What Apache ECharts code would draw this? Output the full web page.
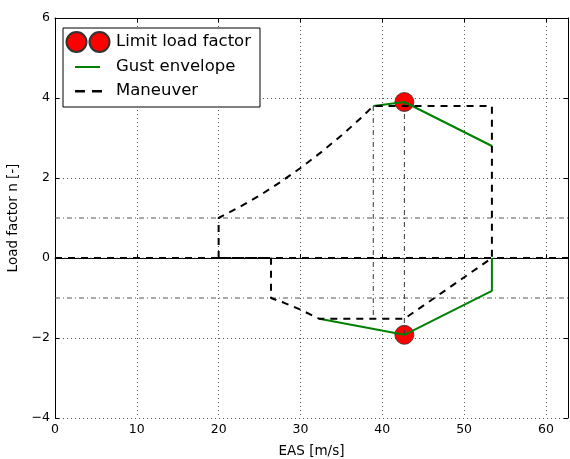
<!DOCTYPE html>
<html>
<head>
<meta charset="utf-8">
<script src="https://cdn.jsdelivr.net/npm/echarts@6/dist/echarts.min.js"></script>
<style>
  html, body { margin: 0; padding: 0; background: #fff; }
  #vn { width: 570px; height: 459px; }
</style>
</head>
<body>
<div id="vn"></div>
<script>
// V-n diagram data (EAS [m/s], load factor n)
var limitV = [42.7, 42.7];
var limitN = [3.9, -1.92];

var gustPosV = [38.9, 42.7, 53.4];
var gustPosN = [3.8, 3.9, 2.8];
var gustNegV = [32.3, 42.7, 53.4, 53.4];
var gustNegN = [-1.52, -1.92, -0.82, 0];

var maneuverV = [20, 20, 22.5, 25, 27.5, 30, 32.5, 35, 37.5, 38.9, 53.4, 53.4, 42.7, 32.3, 30, 28, 26.4, 26.4, 20];
var maneuverN = [0, 1, 1.27, 1.56, 1.89, 2.25, 2.64, 3.06, 3.52, 3.8, 3.8, 0, -1.52, -1.52, -1.29, -1.12, -1, 0, 0];

var zeroLineV = [0, 62.7];
var refLevels = [1, 0, -1];          // thin dash-dot horizontals
var refVertV = [38.9, 42.7];          // thin dash-dot verticals
var refVertTop = [3.8, 3.9];
var refVertBottom = [-1.52, -1.92];

var xTicks = [0, 10, 20, 30, 40, 50, 60];
var yTicks = [-4, -2, 0, 2, 4, 6];

function pairs(xs, ys) {
	var out = [];
	for (var i = 0; i < xs.length; i++) out.push([xs[i], ys[i]]);
	return out;
}

var font = 'DejaVu Sans';
var dashDot = [5, 3, 1, 3];

var refSeries = [];
refLevels.forEach(function (lv) {
	refSeries.push({
		type: 'line', silent: true, symbol: 'none',
		data: pairs(zeroLineV, [lv, lv]),
		// on the zero line the dot falls into the gaps of the thick dashes
		lineStyle: { color: '#555', width: 1, type: lv === 0 ? [7, 2.5, 1, 2.5] : dashDot }
	});
});
refVertV.forEach(function (v, i) {
	refSeries.push({
		type: 'line', silent: true, symbol: 'none',
		data: [[v, refVertTop[i]], [v, refVertBottom[i]]],
		lineStyle: { color: '#333', width: 1, type: dashDot }
	});
});

var chart = echarts.init(document.getElementById('vn'));
chart.setOption({
	animation: false,
	backgroundColor: '#fff',
	grid: { left: 55, right: 2, top: 18, bottom: 41, containLabel: false, outerBoundsMode: 'none' },
	legend: {
		left: 63, top: 28,
		orient: 'vertical',
		itemWidth: 46, itemHeight: 20, itemGap: 4,
		padding: [3, 9, 6, 2],
		backgroundColor: '#fff',
		borderColor: '#000', borderWidth: 1, borderRadius: 0,
		selectedMode: false,
		textStyle: { fontFamily: font, fontSize: 16.5, color: '#000' },
		data: [
			{ name: 'Limit load factor',
			  icon: 'path://M0,10a10,10 0 1,0 20,0a10,10 0 1,0 -20,0zM23,10a10,10 0 1,0 20,0a10,10 0 1,0 -20,0z' },
			{ name: 'Gust envelope',
			  icon: 'path://M0,0h.01v.01h-.01zM10,9h25v2h-25zM46,20h-.01v-.01h.01z',
			  itemStyle: { color: '#008000', borderWidth: 0 } },
			{ name: 'Maneuver',
			  icon: 'path://M0,0h.01v.01h-.01zM10,9h10v2.5h-10zM27,9h10v2.5h-10zM46,20h-.01v-.01h.01z',
			  itemStyle: { color: '#000', borderWidth: 0 } }
		]
	},
	xAxis: [{
		type: 'value', min: 0, max: 62.7, interval: 10,
		name: 'EAS [m/s]', nameLocation: 'middle', nameGap: 26,
		nameTextStyle: { fontFamily: font, fontSize: 13.5, color: '#000' },
		axisLine: { lineStyle: { color: '#000', width: 1 } },
		axisTick: { inside: true, length: 4, lineStyle: { color: '#000' } },
		axisLabel: {
			fontFamily: font, fontSize: 12.5, color: '#000', margin: 5,
			formatter: function (v) { return xTicks.indexOf(v) >= 0 ? String(v) : ''; }
		},
		splitLine: { show: true, lineStyle: { color: '#555', width: 1, type: [1, 3] } }
	}, {
		type: 'value', min: 0, max: 62.7, interval: 10, position: 'top',
		axisLine: { show: true, onZero: false, lineStyle: { color: '#000', width: 1 } },
		axisTick: { inside: true, length: 4, lineStyle: { color: '#000' } },
		axisLabel: { show: false }, splitLine: { show: false }
	}],
	yAxis: [{
		type: 'value', min: -4, max: 6, interval: 2,
		name: 'Load factor n [-]', nameLocation: 'middle', nameGap: 27,
		nameTextStyle: { fontFamily: font, fontSize: 13.5, color: '#000' },
		axisLine: { show: true, onZero: false, lineStyle: { color: '#000', width: 1 } },
		axisTick: { show: true, inside: true, length: 4, lineStyle: { color: '#000' } },
		axisLabel: {
			fontFamily: font, fontSize: 12.5, color: '#000', margin: 5,
			formatter: function (v) { return v < 0 ? '\u2212' + (-v) : String(v); }
		},
		splitLine: { show: true, lineStyle: { color: '#555', width: 1, type: [1, 3] } }
	}, {
		type: 'value', min: -4, max: 6, interval: 2, position: 'right',
		axisLine: { show: true, onZero: false, lineStyle: { color: '#000', width: 1 } },
		axisTick: { show: true, inside: true, length: 4, lineStyle: { color: '#000' } },
		axisLabel: { show: false }, splitLine: { show: false }
	}],
	series: refSeries.concat([
		{
			name: 'Limit load factor', type: 'scatter',
			symbol: 'circle', symbolSize: 19,
			data: pairs(limitV, limitN),
			itemStyle: { color: '#ff0000', borderColor: '#333', borderWidth: 0.8, opacity: 1 }
		},
		{
			name: 'Gust envelope', type: 'line', symbol: 'none',
			data: pairs(gustPosV, gustPosN),
			lineStyle: { color: '#008000', width: 2 }, itemStyle: { color: '#008000' }
		},
		{
			name: 'Gust envelope', type: 'line', symbol: 'none',
			data: pairs(gustNegV, gustNegN),
			lineStyle: { color: '#008000', width: 2 }, itemStyle: { color: '#008000' }
		},
		{
			name: 'Maneuver', type: 'line', symbol: 'none',
			data: pairs(maneuverV, maneuverN),
			lineStyle: { color: '#000', width: 2, type: [7, 6] }, itemStyle: { color: '#000' }
		},
		{
			type: 'line', symbol: 'none', silent: true,
			data: pairs(zeroLineV, [0, 0]),
			lineStyle: { color: '#000', width: 2, type: [7, 6] }
		}
	])
});
</script>
</body>
</html>
